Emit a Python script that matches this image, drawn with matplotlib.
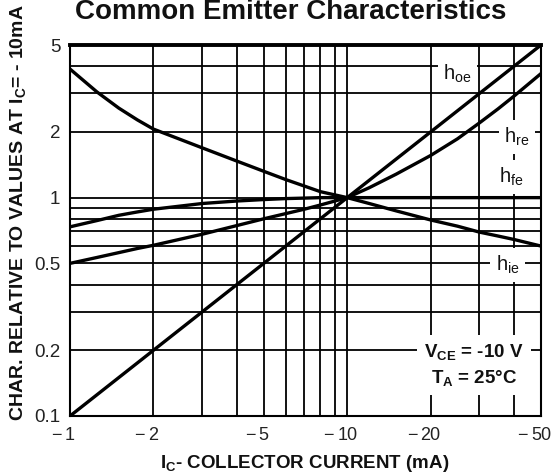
import matplotlib
matplotlib.use("Agg")
import matplotlib.pyplot as plt
from matplotlib.ticker import FixedLocator, FixedFormatter, NullLocator, NullFormatter

plt.rcParams['font.family'] = ['Liberation Sans', 'DejaVu Sans']
plt.rcParams['mathtext.fontset'] = 'custom'
plt.rcParams['mathtext.rm'] = 'Liberation Sans'
plt.rcParams['mathtext.bf'] = 'Liberation Sans:bold'
plt.rcParams['mathtext.it'] = 'Liberation Sans:italic'

# ---- data ----
ic_ma = [1, 1.25, 1.5, 1.75, 2, 3, 4, 5, 6, 7, 8, 10, 12, 15, 20, 25, 30, 35, 40, 50]
h_oe = [0.1, 0.125, 0.15, 0.175, 0.2, 0.3, 0.4, 0.5, 0.6, 0.7, 0.8, 1.0, 1.2, 1.5, 2.0,
        2.5, 3.0, 3.5, 4.0, 5.0]
h_re = [0.5, 0.532, 0.56, 0.585, 0.605, 0.68, 0.745, 0.80, 0.845, 0.885, 0.925, 1.0, 1.11,
        1.28, 1.56, 1.86, 2.2, 2.55, 2.92, 3.7]
h_fe = [0.735, 0.785, 0.83, 0.86, 0.885, 0.94, 0.965, 0.98, 0.99, 0.995, 1.0, 1.0, 1.0,
        1.0, 1.0, 1.0, 1.0, 1.0, 1.0, 1.0]
h_ie = [3.88, 3.05, 2.57, 2.27, 2.06, 1.69, 1.47, 1.32, 1.21, 1.13, 1.065, 1.0, 0.94,
        0.87, 0.79, 0.74, 0.695, 0.667, 0.643, 0.60]

x_grid = [1, 2, 3, 4, 5, 6, 7, 8, 9, 10, 20, 30, 40, 50]
x_label_vals = [1, 2, 5, 10, 20, 50]
y_grid = [0.1, 0.2, 0.3, 0.4, 0.5, 0.6, 0.7, 0.8, 0.9, 1, 2, 3, 4, 5]
y_labels = {0.1: "0.1", 0.2: "0.2", 0.5: "0.5", 1: "1", 2: "2", 5: "5"}

title = "Common Emitter Characteristics"
x_title = r"I$_{\mathbf{C}}$- COLLECTOR CURRENT (mA)"
y_title = r"CHAR. RELATIVE TO VALUES AT I$_{\mathbf{C}}$= - 10mA"
cond_text = "V$_{\\mathbf{CE}}$ = -10 V\nT$_{\\mathbf{A}}$ = 25\u00b0C"

W, H = 554, 475
fig = plt.figure(figsize=(W / 100, H / 100), dpi=100)
ax = fig.add_axes([70 / W, 1 - 416 / H, (541 - 70) / W, (416 - 45) / H])
ax.set_xscale('log')
ax.set_yscale('log')
ax.set_xlim(1, 50)
ax.set_ylim(0.1, 5)

ax.xaxis.set_major_locator(FixedLocator(x_grid))
ax.xaxis.set_minor_locator(NullLocator())
ax.xaxis.set_major_formatter(NullFormatter())
ax.yaxis.set_major_locator(FixedLocator(y_grid))
ax.yaxis.set_minor_locator(NullLocator())
ax.yaxis.set_major_formatter(FixedFormatter([y_labels.get(v, "") for v in y_grid]))
ax.tick_params(axis='both', which='both', length=0, labelsize=13.5, colors='#222222')
ax.tick_params(axis='y', pad=7)

# x tick labels: digits centred on the grid line, minus sign hanging to the left
tick_fs = 13
for v in x_label_vals:
    s = str(v)
    ax.annotate(s, xy=(v, 0), xycoords=('data', 'axes fraction'),
                xytext=(0, -8), textcoords='offset points', ha='center', va='top',
                fontsize=tick_fs, color='#222222', annotation_clip=False)
    half = len(s) * 0.556 * tick_fs / 2
    ax.annotate("\u2212", xy=(v, 0), xycoords=('data', 'axes fraction'),
                xytext=(-half - 2.5, -8), textcoords='offset points', ha='right', va='top',
                fontsize=tick_fs, color='#222222', annotation_clip=False)

ax.grid(True, which='major', color='black', linewidth=1.3, zorder=1)
ax.set_axisbelow(True)
for s in ax.spines.values():
    s.set_linewidth(1.5)
ax.spines['top'].set_linewidth(2.8)

for series in (h_oe, h_re, h_fe, h_ie):
    ax.plot(ic_ma, series, color='black', linewidth=2.4, zorder=4,
            solid_capstyle='round', solid_joinstyle='round')

bbox = dict(facecolor='white', edgecolor='none', pad=4)
lab_kw = dict(ha='center', va='center', fontsize=14.5, color='#111111', zorder=3, bbox=bbox)
ax.text(25, 3.7, r"h$_{\mathrm{oe}}$", **lab_kw)
ax.text(41, 1.9, r"h$_{\mathrm{re}}$", **lab_kw)
ax.text(39, 1.24, r"h$_{\mathrm{fe}}$", **lab_kw)
ax.text(38, 0.49, r"h$_{\mathrm{ie}}$", **lab_kw)
ax.text(28.7, 0.171, cond_text, ha='center', va='center', fontsize=13.5,
        fontweight='bold', color='#111111', zorder=3, linespacing=1.45,
        bbox=dict(facecolor='white', edgecolor='none', pad=5))

fig.text(291 / W, 1 - 19 / H, title, ha='center', va='baseline',
         fontsize=20, fontweight='bold', color='#111111')
fig.text(305 / W, 1 - 468 / H, x_title, ha='center', va='baseline',
         fontsize=13.5, fontweight='bold', color='#111111')
fig.text(18 / W, 1 - 213 / H, y_title, ha='center', va='center', rotation=90,
         fontsize=14, fontweight='bold', color='#111111')

fig.savefig("out.png", dpi=100, facecolor='white')
